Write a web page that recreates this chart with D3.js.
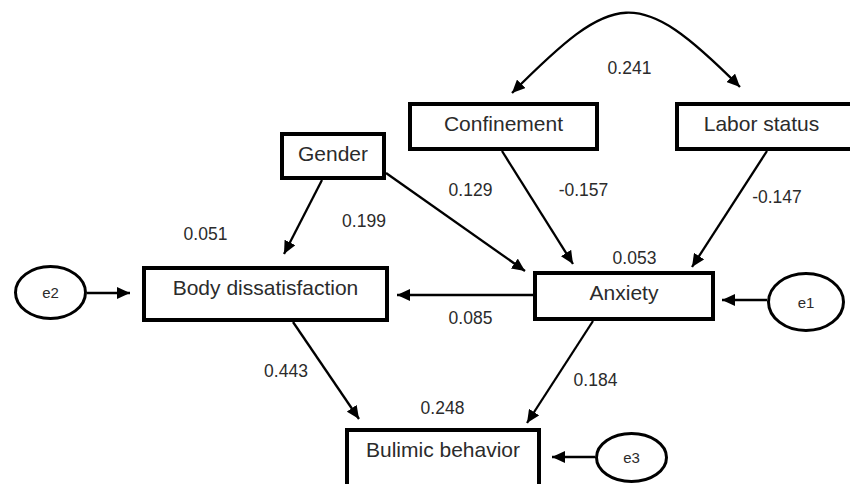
<!DOCTYPE html>
<html>
<head>
<meta charset="utf-8">
<script src="https://cdn.jsdelivr.net/npm/d3@7"></script>
<style>
  body { margin: 0; background: #fff; }
  svg { display: block; }
  text { font-family: "Liberation Sans", Arial, sans-serif; fill: #2b2b2b; }
</style>
</head>
<body>
<svg id="chart" width="850" height="484"></svg>
<script>
// ---- data ----
var boxNames = ["Confinement", "Labor status", "Gender", "Body dissatisfaction", "Anxiety", "Bulimic behavior"];
var errorNames = ["e1", "e2", "e3"];
var errorTargets = ["Anxiety", "Body dissatisfaction", "Bulimic behavior"];

var pathFrom = ["Gender", "Gender", "Confinement", "Labor status", "Anxiety", "Body dissatisfaction", "Anxiety"];
var pathTo = ["Body dissatisfaction", "Anxiety", "Anxiety", "Anxiety", "Body dissatisfaction", "Bulimic behavior", "Bulimic behavior"];
var pathCoef = [0.199, 0.129, -0.157, -0.147, 0.085, 0.443, 0.184];

var r2Names = ["Body dissatisfaction", "Anxiety", "Bulimic behavior"];
var r2Values = [0.051, 0.053, 0.248];

var covPair = ["Confinement", "Labor status"];
var covValue = 0.241;

// ---- layout (outer box edges, label spots, arrow ends) ----
var boxLayout = {
    "Confinement": [408, 102, 599, 151],
    "Labor status": [675, 102, 856, 151],
    "Gender": [280, 132, 386, 180],
    "Body dissatisfaction": [142, 266, 389, 322],
    "Anxiety": [533, 271, 715, 321],
    "Bulimic behavior": [345, 428, 541, 492]
};
var errLayout = {
    "e1": { cx: 806, cy: 302, rx: 37.5, ry: 28.5, from: [767, 300], to: [722, 300] },
    "e2": { cx: 50.5, cy: 292.5, rx: 35, ry: 26, from: [87, 293], to: [130, 293] },
    "e3": { cx: 631.5, cy: 457.5, rx: 35, ry: 24, from: [595, 457], to: [552, 457] }
};
var pathLayout = [
    { from: [322, 180], to: [284, 254], label: [364, 220.5] },
    { from: [386, 173], to: [525, 271], label: [470.5, 189.5] },
    { from: [502, 151], to: [573, 264], label: [583.5, 189.5] },
    { from: [767, 151], to: [692, 267], label: [777, 197] },
    { from: [533, 295], to: [397, 295], label: [470.5, 318] },
    { from: [293, 322], to: [359, 419], label: [286, 370.5] },
    { from: [593, 321], to: [527, 423], label: [595.5, 379.5] }
];
var r2Layout = [[205.5, 234], [634.5, 257.5], [442.5, 408]];
var covLayout = { p0: [512, 93], c1: [615, -10], c2: [637, -16], p1: [740, 87], label: [629.5, 68] };

var fmt = d3.formatLocale({ decimal: ".", thousands: ",", grouping: [3], currency: ["", ""], minus: "-" }).format(".3f");

var svg = d3.select("#chart");

svg.append("defs").append("marker")
    .attr("id", "head")
    .attr("markerUnits", "userSpaceOnUse")
    .attr("markerWidth", 14)
    .attr("markerHeight", 12)
    .attr("refX", 13)
    .attr("refY", 6)
    .attr("orient", "auto-start-reverse")
    .append("path")
    .attr("d", "M0,0 L13,6 L0,12 Z")
    .style("fill", "#000");

// covariance curve
var cp = d3.path();
cp.moveTo(covLayout.p0[0], covLayout.p0[1]);
cp.bezierCurveTo(covLayout.c1[0], covLayout.c1[1], covLayout.c2[0], covLayout.c2[1], covLayout.p1[0], covLayout.p1[1]);
svg.append("path")
    .attr("d", cp.toString())
    .style("fill", "none")
    .style("stroke", "#000")
    .style("stroke-width", 2.3)
    .attr("marker-start", "url(#head)")
    .attr("marker-end", "url(#head)");
svg.append("text")
    .attr("x", covLayout.label[0])
    .attr("y", covLayout.label[1])
    .attr("text-anchor", "middle")
    .attr("dominant-baseline", "central")
    .style("font-size", "17.5px")
    .text(fmt(covValue));

// structural paths
var line = d3.line();
svg.selectAll("path.arrow")
    .data(pathCoef)
    .enter().append("path")
    .attr("class", "arrow")
    .attr("d", function (d, i) {
        return line([pathLayout[i].from, pathLayout[i].to]);
    })
    .style("stroke", "#000")
    .style("stroke-width", 2.3)
    .attr("marker-end", "url(#head)");

svg.selectAll("text.coef")
    .data(pathCoef)
    .enter().append("text")
    .attr("class", "coef")
    .attr("x", function (d, i) { return pathLayout[i].label[0]; })
    .attr("y", function (d, i) { return pathLayout[i].label[1]; })
    .attr("text-anchor", "middle")
    .attr("dominant-baseline", "central")
    .style("font-size", "17.5px")
    .text(function (d) { return fmt(d); });

// error terms
errorNames.forEach(function (e) {
    var L = errLayout[e];
    svg.append("path")
        .attr("d", line([L.from, L.to]))
        .style("stroke", "#000")
        .style("stroke-width", 2.3)
        .attr("marker-end", "url(#head)");
});

// boxes
var boxes = svg.selectAll("g.box")
    .data(boxNames)
    .enter().append("g")
    .attr("class", "box");
boxes.append("rect")
    .attr("x", function (d) { return boxLayout[d][0] + 2; })
    .attr("y", function (d) { return boxLayout[d][1] + 2; })
    .attr("width", function (d) { return boxLayout[d][2] - boxLayout[d][0] - 4; })
    .attr("height", function (d) { return boxLayout[d][3] - boxLayout[d][1] - 4; })
    .style("fill", "#fff")
    .style("stroke", "#000")
    .style("stroke-width", 4);
boxes.append("text")
    .attr("x", function (d) {
        var b = boxLayout[d];
        return d === "Labor status" ? (b[0] + 848) / 2 : (b[0] + b[2]) / 2;
    })
    .attr("y", function (d) { return boxLayout[d][1] + 29; })
    .attr("text-anchor", "middle")
    .style("font-size", "21px")
    .text(function (d) { return d; });

// ellipses
var errs = svg.selectAll("g.err")
    .data(errorNames)
    .enter().append("g")
    .attr("class", "err");
errs.append("ellipse")
    .attr("cx", function (d) { return errLayout[d].cx; })
    .attr("cy", function (d) { return errLayout[d].cy; })
    .attr("rx", function (d) { return errLayout[d].rx; })
    .attr("ry", function (d) { return errLayout[d].ry; })
    .style("fill", "#fff")
    .style("stroke", "#000")
    .style("stroke-width", 3);
errs.append("text")
    .attr("x", function (d) { return errLayout[d].cx; })
    .attr("y", function (d) { return errLayout[d].cy; })
    .attr("text-anchor", "middle")
    .attr("dominant-baseline", "central")
    .style("font-size", "15px")
    .text(function (d) { return d; });

// R squared values
svg.selectAll("text.r2")
    .data(r2Values)
    .enter().append("text")
    .attr("class", "r2")
    .attr("x", function (d, i) { return r2Layout[i][0]; })
    .attr("y", function (d, i) { return r2Layout[i][1]; })
    .attr("text-anchor", "middle")
    .attr("dominant-baseline", "central")
    .style("font-size", "17.5px")
    .text(function (d) { return fmt(d); });
</script>
</body>
</html>
